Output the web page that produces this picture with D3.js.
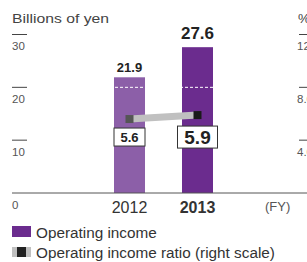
<!DOCTYPE html>
<html>
<head>
<meta charset="utf-8">
<script src="https://cdn.jsdelivr.net/npm/d3@7"></script>
<style>
  body { margin: 0; background: #fff; }
  svg { display: block; font-family: "Liberation Sans", Arial, sans-serif; }
</style>
</head>
<body>
<div class="chart"></div>
<script>
// chart data
var years = ["2012", "2013"];
var income = [21.9, 27.6];
var ratio = [5.6, 5.9];
var leftTicks = [0, 10, 20, 30];
var rightTicks = [4, 8, 12];
var rightTickLabels = ["4.0", "8.0", "12.0"];

var svgWidth = 307;
var svgHeight = 262;

var svg = d3.select(".chart")
  .append("svg")
  .attr("width", svgWidth)
  .attr("height", svgHeight);

// scales
var xBandScale = d3.scaleBand()
  .domain(years)
  .range([114, 213])
  .paddingInner(0.544)
  .paddingOuter(0);

var yLeftScale = d3.scaleLinear()
  .domain([0, 30])
  .range([193, 34.5]);

var yRightScale = d3.scaleLinear()
  .domain([0, 12])
  .range([193, 34.5]);

var barColors = ["#8c5fa8", "#6b2c8e"];

// axis titles
svg.append("text")
  .attr("x", 12)
  .attr("y", 23)
  .attr("font-size", 13.5)
  .attr("fill", "#444")
  .attr("textLength", 97)
  .attr("lengthAdjust", "spacingAndGlyphs")
  .text("Billions of yen");

svg.append("text")
  .attr("x", 298)
  .attr("y", 23)
  .attr("font-size", 13.5)
  .attr("fill", "#444")
  .text("%");

// left ticks: short line with label underneath
var leftTickGroup = svg.append("g");
leftTicks.forEach(function(t) {
  if (t > 0) {
    leftTickGroup.append("line")
      .attr("x1", 12).attr("x2", 27)
      .attr("y1", yLeftScale(t)).attr("y2", yLeftScale(t))
      .attr("stroke", "#444").attr("stroke-width", 1);
  }
  leftTickGroup.append("text")
    .attr("x", 12)
    .attr("y", yLeftScale(t) + 15.5)
    .attr("font-size", 11.5)
    .attr("fill", "#555")
    .text(t);
});

// right ticks (clipped by the window edge)
rightTicks.forEach(function(t, i) {
  svg.append("line")
    .attr("x1", 299).attr("x2", 308)
    .attr("y1", yRightScale(t)).attr("y2", yRightScale(t))
    .attr("stroke", "#444").attr("stroke-width", 1);
  svg.append("text")
    .attr("x", 297)
    .attr("y", yRightScale(t) + 15.5)
    .attr("font-size", 11.5)
    .attr("fill", "#555")
    .text(rightTickLabels[i]);
});

// bars
svg.selectAll("rect.bar")
  .data(income)
  .enter()
  .append("rect")
  .attr("class", "bar")
  .attr("x", (d, i) => xBandScale(years[i]))
  .attr("y", d => yLeftScale(d))
  .attr("width", xBandScale.bandwidth())
  .attr("height", d => yLeftScale(0) - yLeftScale(d))
  .attr("fill", (d, i) => barColors[i]);

// white dashed gridlines over the bars
leftTicks.filter(t => t > 0).forEach(function(t) {
  svg.append("line")
    .attr("x1", 40).attr("x2", 290)
    .attr("y1", yLeftScale(t)).attr("y2", yLeftScale(t))
    .attr("stroke", "#fff").attr("stroke-width", 1)
    .attr("stroke-dasharray", "3,2");
});

// baseline
svg.append("line")
  .attr("x1", 12).attr("x2", 307)
  .attr("y1", yLeftScale(0)).attr("y2", yLeftScale(0))
  .attr("stroke", "#555").attr("stroke-width", 1);

// bar value labels
var valueSizes = [13, 17];
var valueOffsets = [5.6, 7.7];
svg.selectAll("text.value")
  .data(income)
  .enter()
  .append("text")
  .attr("class", "value")
  .attr("x", (d, i) => xBandScale(years[i]) + xBandScale.bandwidth() / 2)
  .attr("y", (d, i) => yLeftScale(d) - valueOffsets[i])
  .attr("text-anchor", "middle")
  .attr("font-size", (d, i) => valueSizes[i])
  .attr("font-weight", "bold")
  .attr("fill", "#222")
  .text(d => d.toFixed(1));

// ratio line
var cx = i => xBandScale(years[i]) + xBandScale.bandwidth() / 2;
var line = d3.line()
  .x((d, i) => cx(i))
  .y(d => yRightScale(d));

svg.append("path")
  .datum(ratio)
  .attr("d", line)
  .attr("fill", "none")
  .attr("stroke", "#c0c0c0")
  .attr("stroke-width", 7);

var markerColors = ["#555555", "#1a1a1a"];
svg.selectAll("rect.marker")
  .data(ratio)
  .enter()
  .append("rect")
  .attr("class", "marker")
  .attr("x", (d, i) => cx(i) - 4)
  .attr("y", d => yRightScale(d) - 4)
  .attr("width", 8)
  .attr("height", 8)
  .attr("fill", (d, i) => markerColors[i]);

// ratio label boxes
var boxW = [31, 40];
var boxH = [18, 22];
var boxGap = [9, 11];
var boxFont = [13, 19];
ratio.forEach(function(d, i) {
  var top = yRightScale(d) + boxGap[i];
  svg.append("rect")
    .attr("x", cx(i) - boxW[i] / 2)
    .attr("y", top)
    .attr("width", boxW[i])
    .attr("height", boxH[i])
    .attr("fill", "#fff")
    .attr("stroke", "#333")
    .attr("stroke-width", 1);
  svg.append("text")
    .attr("x", cx(i))
    .attr("y", top + boxH[i] / 2)
    .attr("dy", "0.36em")
    .attr("text-anchor", "middle")
    .attr("font-size", boxFont[i])
    .attr("font-weight", "bold")
    .attr("fill", "#222")
    .text(d.toFixed(1));
});

// category labels
svg.selectAll("text.year")
  .data(years)
  .enter()
  .append("text")
  .attr("class", "year")
  .attr("x", (d, i) => cx(i))
  .attr("y", 213)
  .attr("text-anchor", "middle")
  .attr("font-size", 16)
  .attr("font-weight", (d, i) => i === 1 ? "bold" : "normal")
  .attr("fill", "#333")
  .text(d => d);

svg.append("text")
  .attr("x", 265)
  .attr("y", 211)
  .attr("font-size", 13)
  .attr("fill", "#555")
  .text("(FY)");

// legend
svg.append("rect")
  .attr("x", 12).attr("y", 226)
  .attr("width", 19).attr("height", 11)
  .attr("fill", "#6b2c8e");
svg.append("text")
  .attr("x", 36).attr("y", 237.5)
  .attr("font-size", 15.3)
  .attr("fill", "#333")
  .text("Operating income");

svg.append("rect")
  .attr("x", 12).attr("y", 247)
  .attr("width", 19).attr("height", 10)
  .attr("fill", "#c0c0c0");
svg.append("rect")
  .attr("x", 17).attr("y", 247)
  .attr("width", 9).attr("height", 10)
  .attr("fill", "#222");
svg.append("text")
  .attr("x", 36).attr("y", 257.5)
  .attr("font-size", 15.3)
  .attr("fill", "#333")
  .text("Operating income ratio (right scale)");
</script>
</body>
</html>
